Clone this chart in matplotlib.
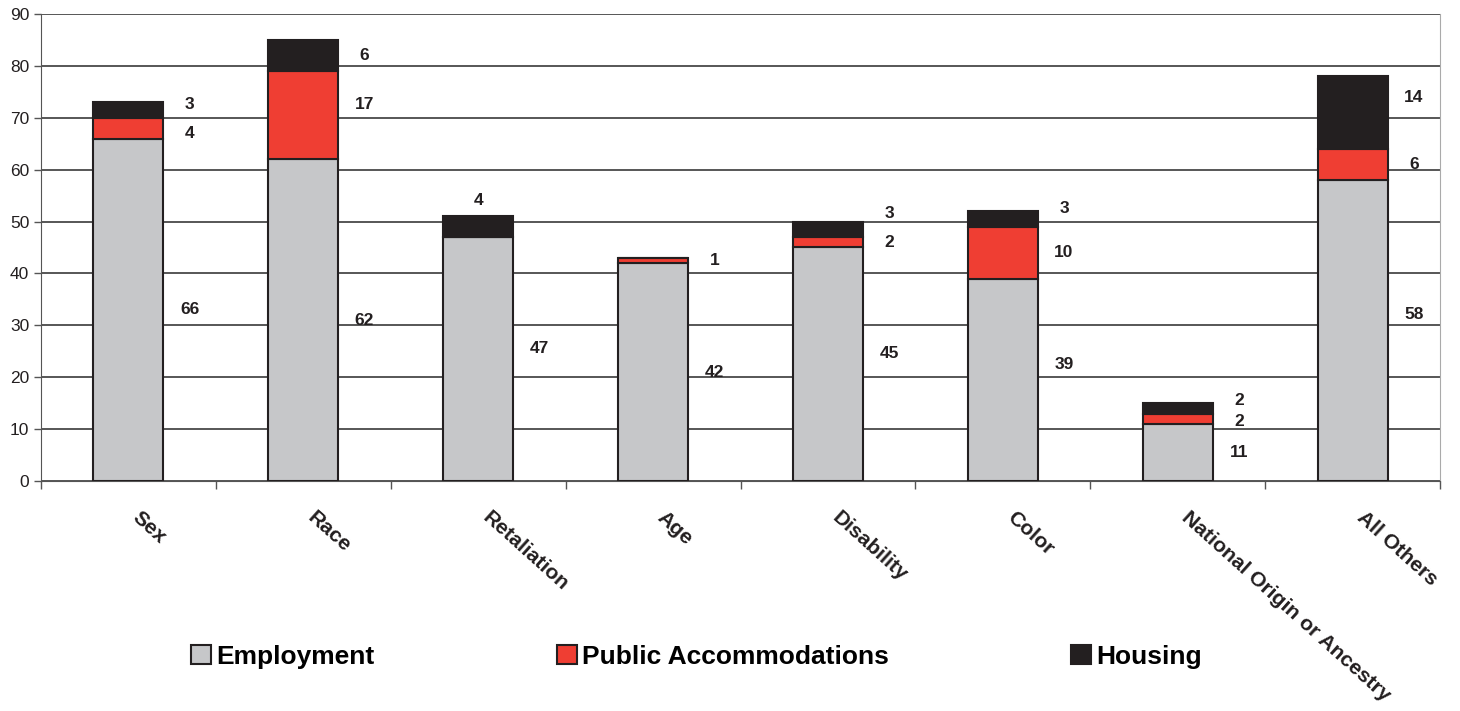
import matplotlib.pyplot as plt
import matplotlib.transforms as mtransforms
import numpy as np

plt.rcParams['font.family'] = ['Liberation Sans', 'DejaVu Sans']

categories = ['Sex', 'Race', 'Retaliation', 'Age', 'Disability', 'Color',
              'National Origin or Ancestry', 'All Others']
employment = [66, 62, 47, 42, 45, 39, 11, 58]
public_acc = [4, 17, 0, 1, 2, 10, 2, 6]
housing = [3, 6, 4, 0, 3, 3, 2, 14]

# label nudges (in data units) to mimic hand-placed labels
nudge_emp = [0, 0, 2, 0, 2, 3, 0, 3]
nudge_pub = [-1, 2, 0, 0, 0, 0, -0.5, 0]
nudge_hou = [1, 0, 0, 0, 3, 2, 1.5, 3]

colors = ['#C6C7C9', '#EF3E33', '#231F20']
edge = '#231F20'

fig = plt.figure(figsize=(14.6, 7.11), dpi=100)
ax = fig.add_axes([0.0281, 0.3235, 0.9582, 0.6568])

x = np.arange(len(categories))
emp = np.array(employment)
pub = np.array(public_acc)
hou = np.array(housing)

w = 0.4
b1 = ax.bar(x, emp, w, color=colors[0], edgecolor=edge, linewidth=1.5, zorder=3, label='Employment')
b2 = ax.bar(x, pub, w, bottom=emp, color=colors[1], edgecolor=edge, linewidth=1.5, zorder=3,
            label='Public Accommodations')
b3 = ax.bar(x, hou, w, bottom=emp + pub, color=colors[2], edgecolor=edge, linewidth=1.5, zorder=3,
            label='Housing')

off = 0.35
lab = dict(fontsize=12.5, fontweight='bold', color='#231F20', ha='center', va='center')
for i in range(len(categories)):
    ax.text(x[i] + off, emp[i] / 2 + nudge_emp[i], str(emp[i]), **lab)
    if pub[i] > 0:
        ax.text(x[i] + off, emp[i] + pub[i] / 2 + nudge_pub[i], str(pub[i]), **lab)
    if hou[i] > 0:
        top = emp[i] + pub[i] + hou[i]
        if pub[i] == 0:
            ax.text(x[i], top + 3, str(hou[i]), **lab)
        else:
            ax.text(x[i] + off, emp[i] + pub[i] + hou[i] / 2 + nudge_hou[i], str(hou[i]), **lab)

ax.set_xlim(-0.5, len(categories) - 0.5)
ax.set_ylim(0, 90)
ax.set_yticks(np.arange(0, 91, 10))
ax.yaxis.grid(True, color='#3a3a3a', linewidth=1.2, zorder=0)
ax.set_axisbelow(True)

ax.set_xticks(x)
ax.set_xticklabels(categories, rotation=-42, ha='left', va='top', rotation_mode='anchor',
                   fontsize=15.2, fontweight='bold', color='#231F20')
ax.tick_params(axis='x', length=0, pad=19)
shift = mtransforms.ScaledTranslation(0.13, 0, fig.dpi_scale_trans)
for t in ax.get_xticklabels():
    t.set_transform(t.get_transform() + shift)
ax.set_xticks(np.arange(-0.5, len(categories), 1), minor=True)
ax.tick_params(axis='x', which='minor', length=6, width=1, color='#555555', direction='out')
ax.tick_params(axis='y', labelsize=12.5, length=5, width=1, color='#555555', labelcolor='#231F20')

ax.spines['top'].set_visible(False)
ax.spines['right'].set_color('#aaaaaa')
ax.spines['left'].set_color('#555555')
ax.spines['bottom'].set_color('#555555')

fig.legend(handles=[b1, b2, b3], loc='center', bbox_to_anchor=(0.477, 0.076), ncol=3,
           frameon=False, prop={'size': 19, 'weight': 'bold'}, handlelength=0.75,
           handleheight=0.75, handletextpad=0.2, columnspacing=6.9)

fig.savefig('out.png', dpi=100)
